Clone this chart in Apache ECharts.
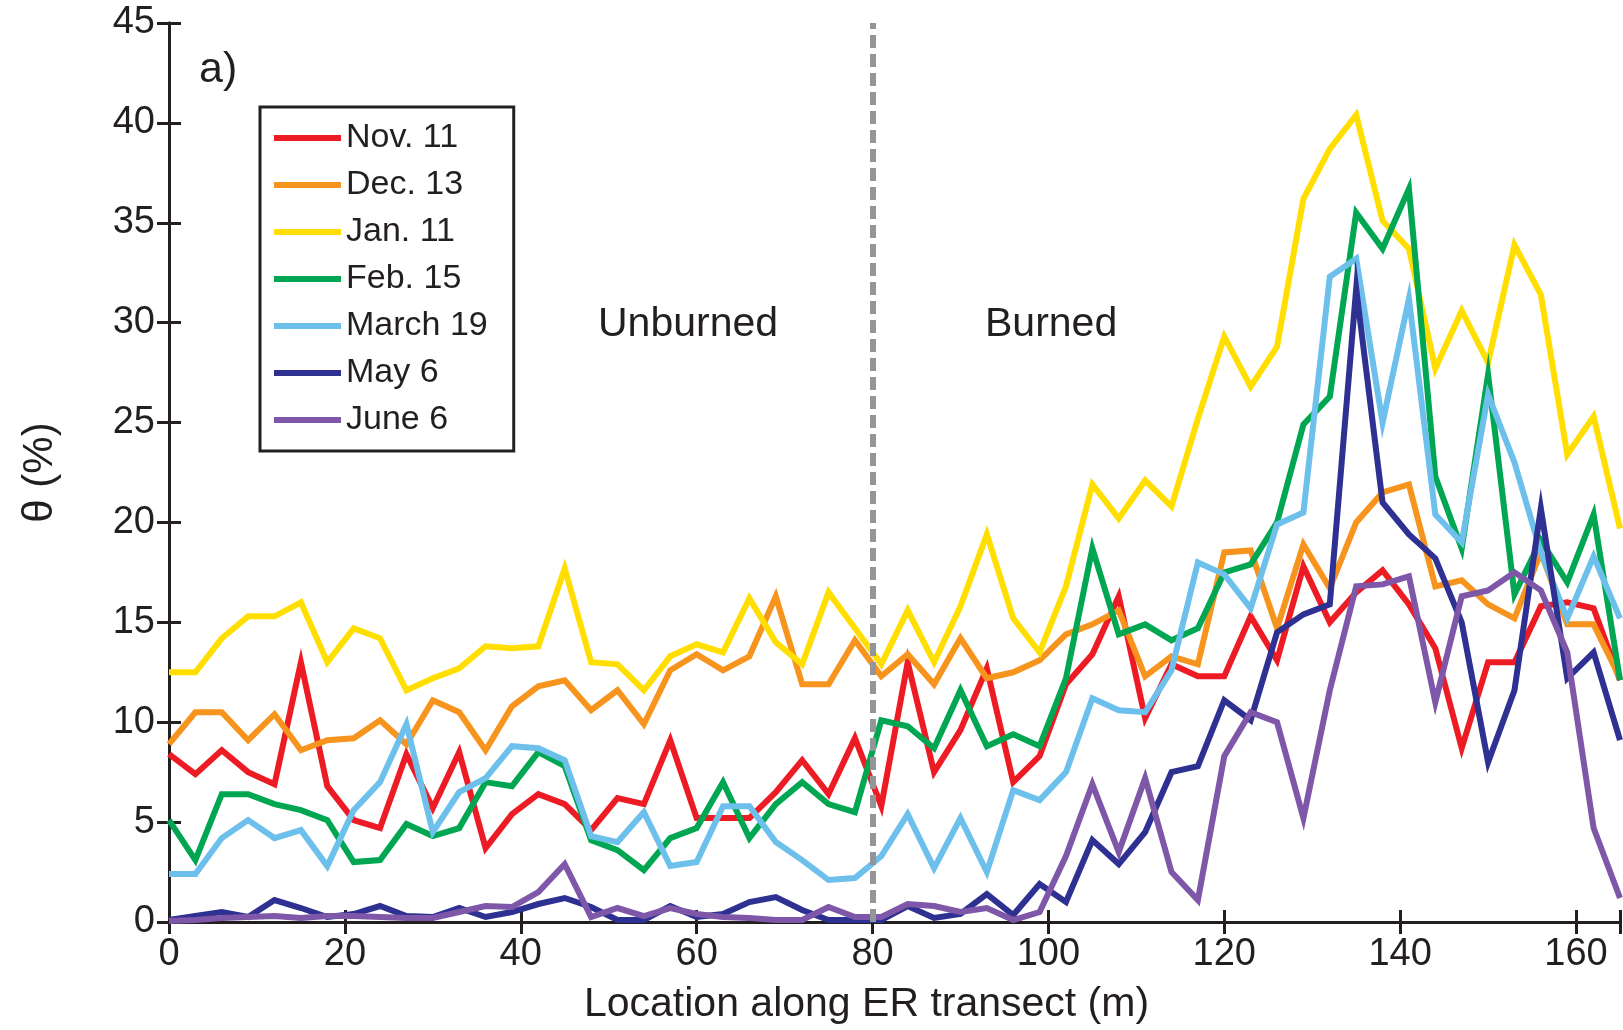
<!DOCTYPE html>
<html lang="en">

<head>
    <meta charset="UTF-8">
    <title>Soil moisture along ER transect</title>
    <style>
        html, body { margin: 0; padding: 0; background: #fff; }
        #main { width: 1623px; height: 1030px; }
    </style>
</head>

<body>
    <div id="main"></div>
</body>
<script src="https://cdn.jsdelivr.net/npm/echarts@6/dist/echarts.min.js"></script>
<script>
    // location along the transect (m), one point every 3 m
    var positions = [0, 3, 6, 9, 12, 15, 18, 21, 24, 27, 30, 33, 36, 39, 42, 45, 48, 51, 54, 57,
        60, 63, 66, 69, 72, 75, 78, 81, 84, 87, 90, 93, 96, 99, 102, 105, 108, 111, 114, 117,
        120, 123, 126, 129, 132, 135, 138, 141, 144, 147, 150, 153, 156, 159, 162, 165];

    var nov11 = [8.4, 7.4, 8.6, 7.5, 6.9, 13.0, 6.8, 5.1, 4.7, 8.4, 5.7, 8.5, 3.7, 5.4, 6.4, 5.9, 4.6, 6.2, 5.9, 9.1,
        5.2, 5.2, 5.2, 6.5, 8.1, 6.4, 9.2, 5.8, 13.0, 7.5, 9.6, 12.7, 7.0, 8.3, 11.9, 13.4, 16.3, 10.2, 12.9, 12.3,
        12.3, 15.3, 13.1, 17.8, 15.0, 16.5, 17.6, 15.9, 13.7, 8.7, 13.0, 13.0, 15.8, 16.0, 15.7, 12.1];
    var dec13 = [8.9, 10.5, 10.5, 9.1, 10.4, 8.6, 9.1, 9.2, 10.1, 8.9, 11.1, 10.5, 8.6, 10.8, 11.8, 12.1, 10.6, 11.6, 9.9, 12.6,
        13.4, 12.6, 13.3, 16.3, 11.9, 11.9, 14.1, 12.3, 13.4, 11.9, 14.2, 12.2, 12.5, 13.1, 14.4, 14.9, 15.6, 12.3, 13.3, 12.9,
        18.5, 18.6, 14.7, 18.9, 16.7, 20.0, 21.5, 21.9, 16.8, 17.1, 15.9, 15.2, 18.5, 14.9, 14.9, 12.2];
    var jan11 = [12.5, 12.5, 14.2, 15.3, 15.3, 16.0, 13.0, 14.7, 14.2, 11.6, 12.2, 12.7, 13.8, 13.7, 13.8, 17.7, 13.0, 12.9, 11.6, 13.3,
        13.9, 13.5, 16.2, 14.0, 12.9, 16.5, 14.7, 12.9, 15.6, 13.0, 15.8, 19.4, 15.2, 13.5, 16.8, 21.9, 20.2, 22.1, 20.8, 25.2,
        29.3, 26.8, 28.8, 36.2, 38.7, 40.4, 35.1, 33.7, 27.7, 30.6, 28.0, 33.9, 31.4, 23.4, 25.3, 19.7];
    var feb15 = [5.1, 3.1, 6.4, 6.4, 5.9, 5.6, 5.1, 3.0, 3.1, 4.9, 4.3, 4.7, 7.0, 6.8, 8.5, 7.8, 4.1, 3.6, 2.6, 4.2,
        4.7, 7.0, 4.2, 5.9, 7.0, 5.9, 5.5, 10.1, 9.8, 8.7, 11.6, 8.8, 9.4, 8.8, 12.2, 18.7, 14.4, 14.9, 14.1, 14.7,
        17.5, 17.9, 20.0, 24.9, 26.3, 35.5, 33.7, 36.7, 22.3, 18.7, 27.4, 16.4, 19.1, 17.0, 20.4, 12.1];
    var mar19 = [2.4, 2.4, 4.2, 5.1, 4.2, 4.6, 2.8, 5.6, 7.0, 9.9, 4.5, 6.5, 7.2, 8.8, 8.7, 8.1, 4.3, 4.0, 5.5, 2.8,
        3.0, 5.8, 5.8, 4.0, 3.1, 2.1, 2.2, 3.3, 5.4, 2.7, 5.2, 2.5, 6.6, 6.1, 7.5, 11.2, 10.6, 10.5, 12.6, 18.0,
        17.4, 15.7, 19.9, 20.5, 32.3, 33.2, 25.0, 31.2, 20.4, 19.0, 26.4, 23.0, 18.5, 15.2, 18.3, 15.2];
    var may6 = [0.1, 0.3, 0.5, 0.25, 1.1, 0.7, 0.25, 0.4, 0.8, 0.3, 0.25, 0.7, 0.25, 0.5, 0.9, 1.2, 0.75, 0.1, 0.1, 0.8,
        0.25, 0.4, 1.0, 1.25, 0.6, 0.1, 0.1, 0.1, 0.8, 0.2, 0.4, 1.4, 0.35, 1.9, 1.0, 4.1, 2.9, 4.5, 7.5, 7.8,
        11.1, 10.1, 14.5, 15.4, 15.9, 31.7, 21.0, 19.4, 18.2, 15.0, 8.0, 11.6, 20.7, 12.2, 13.5, 9.1];
    var jun6 = [0.05, 0.1, 0.2, 0.25, 0.3, 0.2, 0.3, 0.3, 0.25, 0.2, 0.2, 0.5, 0.8, 0.75, 1.5, 2.9, 0.25, 0.7, 0.3, 0.7,
        0.4, 0.25, 0.2, 0.1, 0.1, 0.75, 0.25, 0.25, 0.9, 0.8, 0.5, 0.7, 0.1, 0.5, 3.3, 6.9, 3.5, 7.2, 2.5, 1.1,
        8.3, 10.5, 10.0, 5.2, 11.6, 16.8, 16.9, 17.3, 11.0, 16.3, 16.6, 17.5, 16.6, 13.5, 4.7, 1.2];

    var seriesNames = ['Nov. 11', 'Dec. 13', 'Jan. 11', 'Feb. 15', 'March 19', 'May 6', 'June 6'];
    var seriesColors = ['#ed1c24', '#f7941d', '#ffde00', '#00a651', '#6dc0eb', '#2e3192', '#7e57a8'];
    var seriesValues = [nov11, dec13, jan11, feb15, mar19, may6, jun6];
    var burnBoundary = 80;

    var font = 'Liberation Sans, Arial, Helvetica, sans-serif';
    var ink = '#231f20';

    function pairUp(values) {
        var out = [];
        for (var i = 0; i < positions.length; i++) {
            out.push([positions[i], values[i]]);
        }
        return out;
    }

    var series = [];
    for (var s = 0; s < seriesNames.length; s++) {
        series.push({
            name: seriesNames[s],
            type: 'line',
            data: pairUp(seriesValues[s]),
            showSymbol: false,
            symbol: 'none',
            color: seriesColors[s],
            lineStyle: { width: 6, color: seriesColors[s], join: 'miter' }
        });
    }
    // dashed boundary between unburned and burned parts
    series.push({
        name: 'boundary',
        type: 'line',
        data: [],
        z: 10,
        markLine: {
            silent: true,
            symbol: 'none',
            label: { show: false },
            lineStyle: { type: [13, 6], color: '#939598', width: 6 },
            data: [{ xAxis: burnBoundary }]
        }
    });

    var chartDom = document.getElementById('main');
    var myChart = echarts.init(chartDom);
    var option;

    option = {
        animation: false,
        grid: { left: 169, right: 3, top: 23, bottom: 105 },
        legend: {
            data: seriesNames,
            orient: 'vertical',
            left: 260,
            top: 107,
            icon: 'rect',
            itemWidth: 67,
            itemHeight: 6,
            itemGap: 13,
            itemTextGap: 8,
            padding: [14, 26, 14, 14],
            borderColor: ink,
            borderWidth: 3,
            backgroundColor: '#fff',
            textStyle: { fontSize: 34, fontFamily: font, color: ink, lineHeight: 34 }
        },
        xAxis: [{
            type: 'value',
            min: 0,
            max: 165,
            interval: 20,
            name: 'Location along ER transect (m)',
            nameLocation: 'middle',
            nameGap: 62,
            nameTextStyle: { fontSize: 41, fontFamily: font, color: ink, padding: [0, 56, 0, 0] },
            axisLine: { lineStyle: { color: ink, width: 3 } },
            axisTick: { inside: true, length: 12, lineStyle: { width: 3 } },
            axisLabel: {
                fontSize: 38, fontFamily: font, color: ink, margin: 14,
                formatter: function (v) { return v % 20 === 0 ? String(v) : ''; }
            },
            splitLine: { show: false }
        }, {
            type: 'value',
            position: 'top',
            min: 0,
            max: 165,
            interval: 20,
            axisLine: { show: true, lineStyle: { color: ink, width: 3 } },
            axisTick: { inside: true, length: 12, lineStyle: { width: 3 } },
            axisLabel: { show: false },
            splitLine: { show: false }
        }],
        yAxis: [{
            type: 'value',
            min: 0,
            max: 45,
            interval: 5,
            name: 'θ (%)',
            nameLocation: 'middle',
            nameGap: 108,
            nameTextStyle: { fontSize: 42, fontFamily: font, color: ink },
            axisLine: { show: true, lineStyle: { color: ink, width: 3 } },
            axisTick: { show: true, inside: true, length: 12, lineStyle: { width: 3 } },
            axisLabel: { fontSize: 38, fontFamily: font, color: ink, margin: 14 },
            splitLine: { show: false }
        }, {
            type: 'value',
            position: 'right',
            min: 0,
            max: 45,
            interval: 5,
            axisLine: { show: true, lineStyle: { color: ink, width: 3 } },
            axisTick: { show: true, inside: true, length: 12, lineStyle: { width: 3 } },
            axisLabel: { show: false },
            splitLine: { show: false }
        }],
        graphic: [
            { type: 'text', left: 199, top: 49, style: { text: 'a)', font: '43px ' + font, fill: ink } },
            { type: 'text', left: 598, top: 304, style: { text: 'Unburned', font: '41px ' + font, fill: ink } },
            { type: 'text', left: 985, top: 304, style: { text: 'Burned', font: '41px ' + font, fill: ink } }
        ],
        series: series
    };

    option && myChart.setOption(option);
</script>

</html>
